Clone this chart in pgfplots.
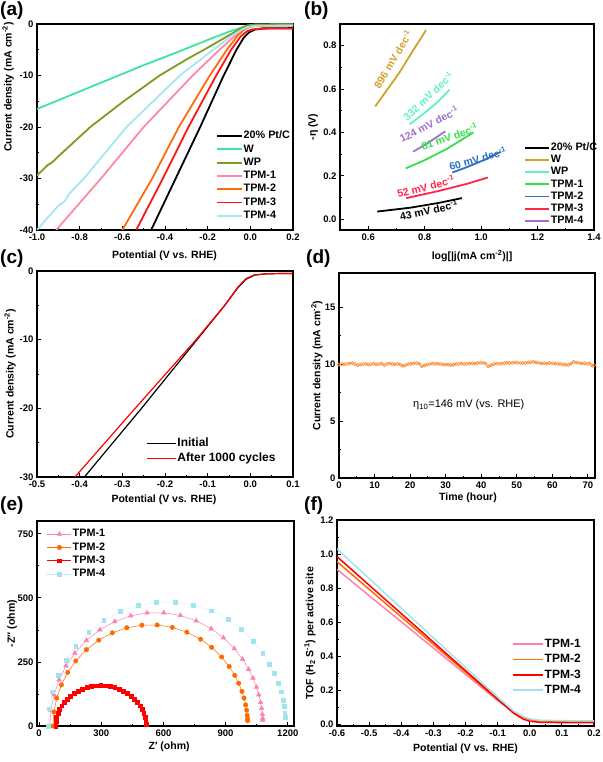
\documentclass[border=0pt]{standalone}
\usepackage{fontspec}
\setmainfont{Liberation Sans}
\usepackage{pgfplots}
\pgfplotsset{compat=1.18}

% panel (a)
\definecolor{aW}{HTML}{3DE3A3}
\definecolor{aWP}{HTML}{7E9B22}
\definecolor{aT1}{HTML}{FF88AA}
\definecolor{aT2}{HTML}{FF6A0E}
\definecolor{aT3}{HTML}{FF1414}
\definecolor{aT4}{HTML}{A6E6F2}
% panel (b)
\definecolor{bW}{HTML}{D3A02A}
\definecolor{bWP}{HTML}{5FF3C3}
\definecolor{bT1}{HTML}{33E048}
\definecolor{bT2}{HTML}{2F6FC2}
\definecolor{bT3}{HTML}{FF2448}
\definecolor{bT4}{HTML}{A070D0}
% panels (d)-(f)
\definecolor{dO}{HTML}{FF8A30}
\definecolor{eT1}{HTML}{FF80B0}
\definecolor{eT2}{HTML}{FF6A00}
\definecolor{eT3}{HTML}{FF0000}
\definecolor{eT4}{HTML}{A2E4EC}

\pgfplotsset{
  panel/.style={
    scale only axis,
    axis line style={line width=1.1pt},
    tick pos=left,
    tick align=inside,
    major tick length=4pt,
    minor tick length=2pt,
    minor tick num=1,
    tick style={black, line width=0.8pt},
    ticklabel style={font=\bfseries\fontsize{9.5}{11}\selectfont},
    label style={font=\bfseries\fontsize{10.5}{12}\selectfont},
    /pgf/number format/assume math mode=true,
    /pgf/number format/1000 sep={},
    legend cell align=left,
  },
  lg10/.style={legend style={draw=none, fill=none, inner sep=0pt,
    font=\bfseries\fontsize{10.8}{12}\selectfont,
    nodes={inner sep=1pt, text height=7.5pt, text depth=2pt}}},
  lg12/.style={legend style={draw=none, fill=none, inner sep=0pt,
    font=\bfseries\fontsize{12}{14}\selectfont,
    nodes={inner sep=1pt, text height=9pt, text depth=2.5pt}}},
}

\begin{document}
\begin{tikzpicture}
\path[use as bounding box] (0,0) rectangle (602pt,762pt);

% ---------------- (a) LSV
\begin{axis}[panel, lg10,
  at={(37pt,532pt)}, anchor=south west,
  width=256pt, height=206pt,
  xmin=-1, xmax=0.2, ymin=-40, ymax=0,
  xtick={-1,-0.8,-0.6,-0.4,-0.2,0,0.2},
  ytick={-40,-30,-20,-10,0},
  xticklabel style={/pgf/number format/.cd, fixed, fixed zerofill, precision=1},
  xlabel={Potential (V vs. RHE)},
  ylabel={Current density (mA cm\textsuperscript{-2})},
  xlabel style={at={(rel axis cs:0.498,-0.126)}, anchor=center},
  ylabel style={at={(rel axis cs:-0.113,0.694)}, anchor=center},
  legend style={at={(0.698,0.485)}, anchor=north west, row sep=1.8pt},
  legend image code/.code={\draw[#1] (0pt,0pt) -- (25pt,0pt);},
  every axis plot/.append style={line width=1.8pt},
]
\addplot[black] coordinates {(-0.465,-40) (-0.35,-30) (-0.235,-20) (-0.125,-10) (-0.065,-5) (-0.03,-2.6) (-0.005,-1.6) (0.02,-1.1) (0.06,-0.85) (0.2,-0.8)};
\addlegendentry{20\% Pt/C}
\addplot[aW] coordinates {(-1,-16.5) (-0.8,-13.1) (-0.6,-9.7) (-0.5,-8.0) (-0.35,-5.6) (-0.2,-3.1) (-0.1,-1.5) (-0.05,-0.8) (-0.02,-0.35) (0.02,-0.1) (0.2,-0.05)};
\addlegendentry{W}
\addplot[aWP] coordinates {(-1,-29.4) (-0.95,-27.4) (-0.93,-26.9) (-0.9,-25.7) (-0.75,-20) (-0.6,-15.2) (-0.425,-10) (-0.3,-6.9) (-0.2,-4.6) (-0.1,-2.2) (-0.05,-1.0) (-0.02,-0.4) (0.02,-0.15) (0.2,-0.1)};
\addlegendentry{WP}
\addplot[aT1] coordinates {(-0.91,-40) (-0.70,-30) (-0.50,-20) (-0.27,-10) (-0.15,-5.2) (-0.08,-2.6) (-0.04,-1.3) (-0.01,-0.6) (0.03,-0.35) (0.2,-0.3)};
\addlegendentry{TPM-1}
\addplot[aT2] coordinates {(-0.6,-40) (-0.46,-30) (-0.335,-20) (-0.19,-10) (-0.11,-5) (-0.06,-2.3) (-0.03,-1.1) (0,-0.5) (0.04,-0.32) (0.2,-0.3)};
\addlegendentry{TPM-2}
\addplot[aT3] coordinates {(-0.535,-40) (-0.41,-30) (-0.29,-20) (-0.16,-10) (-0.09,-5) (-0.045,-2.4) (-0.015,-1.4) (0.01,-1.05) (0.05,-0.9) (0.2,-0.88)};
\addlegendentry{TPM-3}
\addplot[aT4] coordinates {(-1,-40) (-0.95,-37.6) (-0.9,-35.3) (-0.87,-34.4) (-0.85,-33) (-0.78,-30) (-0.58,-20) (-0.33,-10) (-0.18,-5.2) (-0.09,-2.4) (-0.04,-1.1) (-0.01,-0.55) (0.03,-0.35) (0.2,-0.3)};
\addlegendentry{TPM-4}
\end{axis}

% ---------------- (b) Tafel
\begin{axis}[panel, lg10,
  at={(340pt,532pt)}, anchor=south west,
  width=254pt, height=206pt,
  xmin=0.5, xmax=1.4, ymin=-0.05, ymax=0.9,
  xtick={0.6,0.8,1.0,1.2,1.4},
  ytick={0,0.2,0.4,0.6,0.8},
  ticklabel style={/pgf/number format/.cd, fixed, fixed zerofill, precision=1},
  xlabel={log[|j(mA cm\textsuperscript{-2})|]},
  ylabel={-η (V)},
  xlabel style={at={(rel axis cs:0.52,-0.126)}, anchor=center},
  ylabel style={at={(rel axis cs:-0.106,0.5)}, anchor=center},
  legend style={at={(0.724,0.428)}, anchor=north west, row sep=0.7pt},
  legend image code/.code={\draw[#1] (0pt,0pt) -- (24pt,0pt);},
  every axis plot/.append style={line width=1.8pt},
]
\addplot[black] coordinates {(0.632,0.035) (0.75,0.053) (0.85,0.075) (0.932,0.097)};
\addlegendentry{20\% Pt/C}
\addplot[bW] coordinates {(0.625,0.52) (0.71,0.675) (0.76,0.78) (0.805,0.872)};
\addlegendentry{W}
\addplot[bWP] coordinates {(0.747,0.438) (0.80,0.49) (0.85,0.545) (0.888,0.597)};
\addlegendentry{WP}
\addplot[bT1] coordinates {(0.733,0.234) (0.80,0.272) (0.88,0.325) (0.973,0.40)};
\addlegendentry{TPM-1}
\addplot[bT2] coordinates {(0.898,0.215) (0.95,0.24) (1.02,0.278) (1.07,0.311)};
\addlegendentry{TPM-2}
\addplot[bT3] coordinates {(0.735,0.097) (0.85,0.13) (0.95,0.163) (1.024,0.192)};
\addlegendentry{TPM-3}
\addplot[bT4] coordinates {(0.759,0.311) (0.81,0.35) (0.873,0.405)};
\addlegendentry{TPM-4}
\begin{scope}[every node/.style={font=\bfseries\fontsize{10.5}{12}\selectfont, inner sep=0pt}]
\node[bW, rotate=59] at (axis cs:0.687,0.738) {896 mV dec\textsuperscript{-1}};
\node[bWP, rotate=43] at (axis cs:0.812,0.569) {332 mV dec\textsuperscript{-1}};
\node[bT4, rotate=27] at (axis cs:0.815,0.438) {124 mV dec\textsuperscript{-1}};
\node[bT1, rotate=19] at (axis cs:0.888,0.382) {81 mV dec\textsuperscript{-1}};
\node[bT2, rotate=16] at (axis cs:0.988,0.280) {60 mV dec\textsuperscript{-1}};
\node[bT3, rotate=14] at (axis cs:0.804,0.151) {52 mV dec\textsuperscript{-1}};
\node[black, rotate=12] at (axis cs:0.815,0.042) {43 mV dec\textsuperscript{-1}};
\end{scope}
\end{axis}

% ---------------- (c) stability LSV
\begin{axis}[panel, lg12,
  at={(37pt,285pt)}, anchor=south west,
  width=256pt, height=206pt,
  xmin=-0.5, xmax=0.1, ymin=-30, ymax=0,
  xtick={-0.5,-0.4,-0.3,-0.2,-0.1,0,0.1},
  ytick={-30,-20,-10,0},
  xticklabel style={/pgf/number format/.cd, fixed, fixed zerofill, precision=1},
  xlabel={Potential (V vs. RHE)},
  ylabel={Current density (mA cm\textsuperscript{-2})},
  xlabel style={at={(rel axis cs:0.496,-0.112)}, anchor=center},
  ylabel style={at={(rel axis cs:-0.105,0.5)}, anchor=center},
  legend style={at={(0.426,0.198)}, anchor=north west, row sep=1.5pt},
  legend image code/.code={\draw[#1] (0pt,0pt) -- (29pt,0pt);},
  every axis plot/.append style={line width=1.2pt},
]
\addplot[black] coordinates {(-0.389,-30) (-0.255,-20) (-0.125,-10) (-0.06,-5) (-0.03,-2.5) (-0.01,-1.2) (0.01,-0.6) (0.04,-0.4) (0.1,-0.35)};
\addlegendentry{Initial}
\addplot[eT3] coordinates {(-0.411,-30) (-0.27,-20) (-0.127,-10) (-0.06,-5) (-0.03,-2.4) (-0.01,-1.1) (0.01,-0.55) (0.04,-0.4) (0.1,-0.35)};
\addlegendentry{After 1000 cycles}
\end{axis}

% ---------------- (d) chronoamperometry
\begin{axis}[panel,
  at={(339pt,284pt)}, anchor=south west,
  width=256pt, height=205pt,
  xmin=0, xmax=72, ymin=0, ymax=18,
  xtick={0,10,...,70},
  ytick={0,5,10,15},
  xlabel={Time (hour)},
  ylabel={Current density (mA cm\textsuperscript{-2})},
  xlabel style={at={(rel axis cs:0.504,-0.098)}, anchor=center},
  ylabel style={at={(rel axis cs:-0.086,0.548)}, anchor=center},
]
\addplot[dO, line width=0.5pt, mark=o, mark size=1.6pt, mark options={line width=0.6pt}] coordinates {
(0,9.95) (0.75,10.0) (1.5,9.98) (2.25,10.02) (3,10.05) (3.75,10.1) (4.5,10.0) (5.25,9.9)
(6,9.95) (6.75,10.0) (7.5,10.02) (8.25,9.97) (9,10.0) (9.75,10.03) (10.5,9.98) (11.25,10.0)
(12,10.05) (12.75,9.9) (13.5,10.02) (14.25,10.05) (15,10.0) (15.75,9.97) (16.5,10.02) (17.25,9.95)
(18,9.85) (18.75,9.9) (19.5,10.0) (20.25,10.03) (21,10.05) (21.75,10.1) (22.5,10.05) (23.25,9.8)
(24,9.88) (24.75,9.95) (25.5,10.0) (26.25,10.05) (27,10.02) (27.75,10.05) (28.5,10.0) (29.25,9.98)
(30,9.95) (30.75,9.95) (31.5,9.92) (32.25,9.95) (33,10.0) (33.75,10.02) (34.5,10.05) (35.25,10.0)
(36,10.02) (36.75,10.05) (37.5,10.08) (38.25,10.05) (39,10.1) (39.75,10.12) (40.5,10.1) (41.25,10.05)
(42,9.8) (42.75,9.9) (43.5,10.0) (44.25,10.05) (45,10.02) (45.75,10.05) (46.5,10.1) (47.25,10.12)
(48,10.1) (48.75,10.12) (49.5,10.15) (50.25,10.12) (51,10.1) (51.75,10.08) (52.5,10.1) (53.25,10.15)
(54,10.18) (54.75,10.2) (55.5,10.15) (56.25,10.1) (57,10.05) (57.75,10.08) (58.5,10.05) (59.25,10.1)
(60,10.08) (60.75,10.05) (61.5,10.02) (62.25,10.0) (63,9.98) (63.75,9.95) (64.5,9.92) (65.25,10.05)
(66,10.2) (66.75,10.15) (67.5,10.1) (68.25,10.05) (69,10.08) (69.75,10.02) (70.5,10.05) (71.25,9.85)
(71.75,9.9)};
\node[font=\fontsize{11}{13}\selectfont] at (axis cs:36.5,6.44) {η\textsubscript{10}=146 mV (vs. RHE)};
\end{axis}

% ---------------- (e) Nyquist
\begin{axis}[panel, lg10,
  at={(37pt,36pt)}, anchor=south west,
  width=257pt, height=205pt,
  xmin=-10, xmax=1230, ymin=0, ymax=800,
  xtick={0,300,600,900,1200},
  ytick={0,250,500,750},
  xlabel={Z′ (ohm)},
  ylabel={-Z″ (ohm)},
  xlabel style={at={(rel axis cs:0.514,-0.102)}, anchor=center},
  ylabel style={at={(rel axis cs:-0.097,0.5)}, anchor=center},
  legend style={at={(0.039,0.965)}, anchor=north west, row sep=1.8pt},
  legend image code/.code={\draw[mark repeat=2,mark phase=2,#1] plot coordinates {(0pt,0pt) (12pt,0pt) (24pt,0pt)};},
  every axis plot/.append style={line width=0.5pt},
]
\addplot[eT1, mark=triangle*, mark size=2.6pt] coordinates {
(52.0,0) (57.0,61.7) (71.9,122.1) (96.5,180.2) (130.1,234.7) (172.3,284.8) (228.8,334.3)
(293.6,375.7) (365.2,407.8) (441.7,429.8) (521.2,441.3) (601.9,441.9) (681.7,431.7) (758.5,410.7)
(830.7,379.7) (889.5,344.3) (941.9,302.1) (981.8,260.4) (1011.1,221.5) (1031.8,187.2) (1049.0,151.5)
(1060.1,122.1) (1068.7,92.1) (1073.7,69.3) (1077.2,46.3) (1078.8,30.9) (1079.3,23.2)};
\addlegendentry{TPM-1}
\addplot[eT2, mark=*, mark size=2.2pt] coordinates {
(67.0,0) (71.6,55.0) (85.2,108.9) (107.7,160.6) (138.4,209.3) (177.0,253.9) (228.6,298.1)
(287.9,335.0) (353.4,363.6) (423.3,383.3) (496.0,393.5) (569.8,394.1) (642.8,384.9) (713.1,366.2)
(779.1,338.6) (832.8,307.0) (880.8,269.4) (917.2,232.2) (944.0,197.5) (963.0,166.9) (978.7,135.1)
(988.8,108.9) (996.7,82.1) (1001.2,61.8) (1004.4,41.3) (1005.9,27.6) (1006.3,20.7)};
\addlegendentry{TPM-2}
\addplot[eT3, mark=square*, mark size=1.9pt] coordinates {
(80.0,0) (81.2,16.5) (84.8,32.8) (90.7,48.8) (98.9,64.3) (109.2,79.0) (121.6,92.9) (136.0,105.7)
(152.1,117.4) (169.9,127.8) (189.0,136.8) (209.3,144.3) (230.6,150.3) (252.7,154.5) (275.2,157.1)
(298,158) (320.8,157.1) (343.3,154.5) (365.4,150.3) (386.7,144.3) (407.0,136.8) (426.1,127.8)
(443.9,117.4) (460.0,105.7) (474.4,92.9) (486.8,79.0) (497.1,64.3) (505.3,48.8) (511.2,32.8)
(514.8,16.5) (515.7,8.3)};
\addlegendentry{TPM-3}
\addplot[eT4, densely dotted, mark=square*, mark size=1.9pt, mark options={solid}] coordinates {
(43.0,0) (48.6,67.5) (65.2,133.7) (92.6,197.2) (130.1,257.0) (177.1,311.8) (240.1,366.0)
(312.4,411.3) (392.1,446.4) (477.4,470.6) (566.0,483.2) (656.0,483.8) (744.9,472.6) (830.6,449.7)
(911.1,415.7) (976.6,376.9) (1035.1,330.8) (1079.6,285.1) (1112.2,242.5) (1135.3,205.0) (1154.4,165.9)
(1166.8,133.7) (1176.5,100.8) (1181.9,75.9) (1185.8,50.7) (1187.6,33.9)};
\addlegendentry{TPM-4}
\end{axis}

% ---------------- (f) TOF
\begin{axis}[panel, lg12,
  at={(337pt,36pt)}, anchor=south west,
  width=257pt, height=206pt,
  xmin=-0.6, xmax=0.2, ymin=-0.01, ymax=1.2,
  xtick={-0.6,-0.5,-0.4,-0.3,-0.2,-0.1,0,0.1,0.2},
  ytick={0,0.2,0.4,0.6,0.8,1.0,1.2},
  ticklabel style={/pgf/number format/.cd, fixed, fixed zerofill, precision=1},
  xlabel={Potential (V vs. RHE)},
  ylabel={TOF (H\textsubscript{2} S\textsuperscript{-1}) per active site},
  xlabel style={at={(rel axis cs:0.5,-0.112)}, anchor=center},
  ylabel style={at={(rel axis cs:-0.105,0.45)}, anchor=center},
  legend style={at={(0.681,0.431)}, anchor=north west, row sep=1.8pt},
  legend image code/.code={\draw[#1] (0pt,0pt) -- (30pt,0pt);},
  every axis plot/.append style={line width=1.5pt},
]
\addplot[eT1] coordinates {(-0.6,0.91) (-0.1,0.14) (-0.05,0.072) (-0.02,0.042) (0,0.03) (0.03,0.02) (0.1,0.016) (0.2,0.015)};
\addlegendentry{TPM-1}
\addplot[eT2] coordinates {(-0.6,0.955) (-0.1,0.145) (-0.05,0.07) (-0.02,0.04) (0,0.028) (0.03,0.02) (0.1,0.016) (0.2,0.015)};
\addlegendentry{TPM-2}
\addplot[eT3] coordinates {(-0.6,0.985) (-0.1,0.148) (-0.05,0.065) (-0.02,0.03) (0,0.018) (0.03,0.012) (0.1,0.01) (0.2,0.01)};
\addlegendentry{TPM-3}
\addplot[eT4] coordinates {(-0.6,1.03) (-0.1,0.16) (-0.05,0.078) (-0.02,0.045) (0,0.032) (0.03,0.024) (0.1,0.021) (0.2,0.02)};
\addlegendentry{TPM-4}
\end{axis}

% panel letters
\begin{scope}[every node/.style={anchor=north west, inner sep=0pt, font=\bfseries\fontsize{19}{22}\selectfont}]
\node at (0pt,760pt) {(a)};
\node at (304pt,760pt) {(b)};
\node at (0pt,512pt) {(c)};
\node at (306pt,512pt) {(d)};
\node at (0pt,265pt) {(e)};
\node at (304pt,265pt) {(f)};
\end{scope}
\end{tikzpicture}
\end{document}
